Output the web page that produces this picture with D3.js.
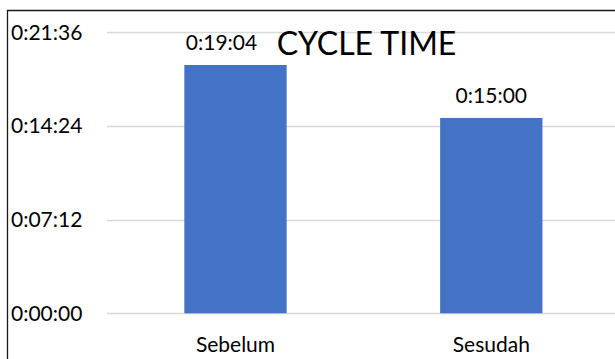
<!DOCTYPE html>
<html>
<head>
<meta charset="utf-8">
<script src="https://cdn.jsdelivr.net/npm/d3@7"></script>
<style>
  html, body { margin: 0; padding: 0; background: #fff; }
  svg { display: block; font-family: Lato, "Open Sans", sans-serif; }
</style>
</head>
<body>
<svg id="chart"></svg>
<script>
// cycle time, seconds
const categories = ["Sebelum", "Sesudah"];
const cycleTime = [1144, 900];
const yTicks = [0, 432, 864, 1296];

const width = 615;
const height = 359;

const fmt = (s) => {
  const h = Math.floor(s / 3600);
  const m = Math.floor((s % 3600) / 60);
  const sec = s % 60;
  return `${h}:${String(m).padStart(2, "0")}:${String(sec).padStart(2, "0")}`;
};

const svg = d3.select("#chart").attr("width", width).attr("height", height);

const x = d3.scaleBand().domain(categories).range([107.6, 619.2]).paddingInner(0.6).paddingOuter(0.3);
const y = d3.scaleLinear().domain([0, 1296]).range([313.3, 32]);

// frame (only top and left visible)
svg.append("path")
  .attr("d", `M7.5,${height} L7.5,10.5 L${width},10.5`)
  .attr("fill", "none")
  .attr("stroke", "#1a1a1a")
  .attr("stroke-width", 1.3);

// gridlines
svg.append("g")
  .selectAll("line")
  .data(yTicks)
  .join("line")
  .attr("x1", 107)
  .attr("x2", width)
  .attr("y1", (d) => Math.round(y(d)) + 0.5)
  .attr("y2", (d) => Math.round(y(d)) + 0.5)
  .attr("stroke", "#d9d9d9")
  .attr("stroke-width", 1.5);

// y tick labels
svg.append("g")
  .selectAll("text")
  .data(yTicks)
  .join("text")
  .attr("x", 11)
  .attr("y", (d) => y(d))
  .attr("dy", "0.36em")
  .attr("font-size", 21)
  .attr("fill", "#000")
  .text(fmt);

// bars
svg.append("g")
  .selectAll("rect")
  .data(cycleTime)
  .join("rect")
  .attr("x", (d, i) => x(categories[i]))
  .attr("width", x.bandwidth())
  .attr("y", (d) => y(d))
  .attr("height", (d) => y(0) - y(d))
  .attr("fill", "#4472c4");

// value labels (first one nudged left of the title)
svg.append("g")
  .selectAll("text")
  .data(cycleTime)
  .join("text")
  .attr("x", (d, i) => x(categories[i]) + x.bandwidth() / 2 + (i === 0 ? -14 : 0))
  .attr("y", (d) => y(d) - 15)
  .attr("text-anchor", "middle")
  .attr("font-size", 21)
  .attr("fill", "#000")
  .text(fmt);

// category labels
svg.append("g")
  .selectAll("text")
  .data(categories)
  .join("text")
  .attr("x", (d) => x(d) + x.bandwidth() / 2)
  .attr("y", 351.5)
  .attr("text-anchor", "middle")
  .attr("font-size", 21)
  .attr("fill", "#000")
  .text((d) => d);

// title
svg.append("text")
  .attr("x", 366.5)
  .attr("y", 54.5)
  .attr("text-anchor", "middle")
  .attr("font-size", 32)
  .attr("fill", "#000")
  .text("CYCLE TIME");
</script>
</body>
</html>
